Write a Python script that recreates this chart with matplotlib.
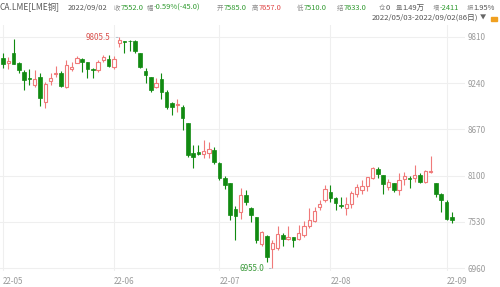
#LME copper daily candles, 2022/05/03 - 2022/09/02
import numpy as np
import matplotlib
matplotlib.use('Agg')
import matplotlib.pyplot as plt
from matplotlib.patches import Rectangle

plt.rcParams['font.family'] = ['Noto Sans CJK SC', 'DejaVu Sans']

# daily OHLC (86 trading days)
opens = [9551, 9489, 9613, 9489, 9378, 9300, 9218, 9316, 9008, 9267,
         9353, 9366, 9193, 9415, 9489, 9539, 9501, 9415, 9403, 9526,
         9539, 9440, 9736, 9761, 9765, 9761, 9613, 9390, 9316, 9193,
         9292, 9131, 8996, 8971, 8946, 8749, 8379, 8391, 8366, 8379,
         8416, 8255, 8070, 8009, 7688, 7651, 7861, 7700, 7589, 7256,
         7355, 7194, 7207, 7367, 7318, 7342, 7318, 7367, 7478, 7540,
         7713, 7799, 7898, 7824, 7737, 7700, 7750, 7873, 7922, 7972,
         8070, 8181, 8107, 7959, 8009, 7922, 8058, 8070, 8070, 8107,
         8021, 8144, 8009, 7873, 7774, 7585]
highs = [9613, 9563, 9785, 9501, 9403, 9415, 9403, 9366, 9255, 9366,
         9452, 9390, 9526, 9501, 9576, 9551, 9501, 9428, 9526, 9588,
         9588, 9576, 9805.5, 9761, 9773, 9773, 9613, 9428, 9316, 9304,
         9366, 9156, 9008, 9045, 8971, 8749, 8477, 8477, 8539, 8515,
         8453, 8268, 8095, 8009, 7725, 7947, 7922, 7713, 7589, 7416,
         7367, 7305, 7478, 7392, 7478, 7342, 7490, 7540, 7700, 7713,
         7799, 7984, 7984, 7836, 7836, 7836, 7910, 7996, 8046, 8083,
         8206, 8206, 8107, 8058, 8009, 8132, 8144, 8095, 8230, 8132,
         8169, 8340, 8009, 7885, 7799, 7657]
lows = [9428, 9415, 9477, 9366, 9156, 9218, 9193, 8959, 8934, 9218,
        9316, 9193, 9181, 9390, 9489, 9378, 9304, 9304, 9378, 9501,
        9440, 9415, 9687, 9613, 9638, 9613, 9428, 9242, 9131, 9181,
        9045, 8920, 8848, 8885, 8663, 8329, 8194, 8354, 8317, 8317,
        8243, 8046, 7935, 7553, 7305, 7565, 7737, 7527, 7268, 7231,
        7034, 6955, 7182, 7231, 7305, 7219, 7305, 7342, 7453, 7527,
        7676, 7774, 7774, 7676, 7700, 7614, 7700, 7836, 7873, 7910,
        8058, 8070, 7873, 7922, 7898, 7861, 7984, 7947, 8021, 8009,
        8009, 8132, 7836, 7651, 7552, 7510]
closes = [9477, 9514, 9477, 9403, 9279, 9292, 9292, 9057, 9230, 9304,
          9366, 9205, 9465, 9440, 9551, 9501, 9415, 9403, 9501, 9563,
          9452, 9539, 9773, 9749, 9755, 9638, 9440, 9341, 9156, 9242,
          9131, 8946, 8946, 8983, 8811, 8354, 8329, 8366, 8403, 8428,
          8268, 8070, 7984, 7614, 7602, 7861, 7774, 7614, 7305, 7404,
          7096, 7268, 7379, 7318, 7342, 7305, 7392, 7478, 7552, 7663,
          7750, 7935, 7824, 7762, 7725, 7750, 7885, 7959, 7972, 8083,
          8194, 8120, 7996, 8021, 7922, 8046, 8095, 8060, 8107, 8021,
          8157, 8157, 7873, 7799, 7565, 7552]

month_start = [0, 21, 41, 62, 84]
month_labels = ['22-05', '22-06', '22-07', '22-08', '22-09']
yticks = [6960, 7530, 8100, 8670, 9240, 9810]

# header: (label, value) pairs
header_keys = ['', '', '收', '幅', '开', '高', '低', '结', '仓', '量', '增', '振']
header_vals = ['CA.LME[LME铜]', '2022/09/02', '7552.0', '-0.59%(-45.0)', '7585.0',
               '7657.0', '7510.0', '7633.0', '0', '1.49万', '-2411', '1.95%']
header_x = [0, 68, 114, 143, 217, 252, 297, 337, 379, 396, 433, 467]
RED = '#e04848'
GREEN = '#2f9a2f'
GRAYT = '#555555'
header_col = [GRAYT, GRAYT, GREEN, GREEN, GREEN, RED, GREEN, GREEN, GRAYT, GRAYT,
              GREEN, GRAYT]

W, H = 500, 287
fig = plt.figure(figsize=(5, 2.87), dpi=100)
ax = fig.add_axes([0, (H - 271) / H, 465 / W, (271 - 25) / H])

o = np.array(opens, float); h = np.array(highs, float)
l = np.array(lows, float); c = np.array(closes, float)
x = np.arange(len(o))
up = c >= o

candle_red = '#f07a7a'
candle_green = '#118a11'

ax.vlines(x[up], l[up], h[up], color=candle_red, lw=0.8, zorder=2)
ax.vlines(x[~up], l[~up], h[~up], color=candle_green, lw=0.8, zorder=2)
bot = np.minimum(o, c)
hgt = np.maximum(np.abs(c - o), 10)
ax.bar(x[up], hgt[up], bottom=bot[up], width=0.62, facecolor='white',
       edgecolor=candle_red, lw=0.8, zorder=3)
ax.bar(x[~up], hgt[~up], bottom=bot[~up], width=0.68, facecolor=candle_green,
       edgecolor=candle_green, lw=0.5, zorder=3)

ax.set_xlim(-0.57, 87.5)
ax.set_ylim(6923, 9958)

ax.set_yticks(yticks)
ax.yaxis.tick_right()
ax.set_xticks(month_start)
ax.set_xticklabels(month_labels, ha='left')
ax.tick_params(length=0, labelsize=5.8, colors='#9a9a9a', pad=2)
ax.tick_params(axis='x', pad=4)
ax.grid(True, color='#efefef', lw=0.8, zorder=0)
for s in ax.spines.values():
    s.set_visible(False)

# max / min markers
imax = int(np.argmax(h)); imin = int(np.argmin(l))
ax.annotate('%.1f' % h[imax], xy=(imax - 0.2, h[imax]), xytext=(imax - 1.6, h[imax]),
            ha='right', va='center', fontsize=5.8, color='#d9534f',
            arrowprops=dict(arrowstyle='-', color='#a8b8c8', lw=0.6))
ax.annotate('%.1f' % l[imin], xy=(imin - 0.2, l[imin]), xytext=(imin - 1.6, l[imin]),
            ha='right', va='center', fontsize=5.8, color='#3a9a3a',
            arrowprops=dict(arrowstyle='-', color='#a8b8c8', lw=0.6))

# header line: small gray key, value right after it, never overlapping
rend = fig.canvas.get_renderer()
yh = 1 - 8 / H
prev_end = -10
for i, (k, v, xp, col) in enumerate(zip(header_keys, header_vals, header_x, header_col)):
    xs = max(xp, prev_end + 3)
    xv = xs
    if k:
        tk = fig.text(xs / W, yh, k, color='#8a8a8a', fontsize=4.6, va='center', ha='left')
        xv = xs + tk.get_window_extent(rend).width + 0.3
    fs = 6.0 if i == 0 else 5.4
    tv = fig.text(xv / W, yh, v, color=col, fontsize=fs, va='center', ha='left')
    prev_end = xv + tv.get_window_extent(rend).width
fig.text(478 / W, 1 - 17.5 / H, '2022/05/03-2022/09/02(86日)', color=GRAYT,
         fontsize=5.6, va='center', ha='right')
fig.text(480 / W, 1 - 17.5 / H, '▼', color='#666666', fontsize=4.5, va='center', ha='left')
fig.patches.append(Rectangle((491 / W, 1 - 21 / H), 6 / W, 4 / H, color='#f0a020',
                             transform=fig.transFigure))

plt.savefig('out.png', dpi=100)
